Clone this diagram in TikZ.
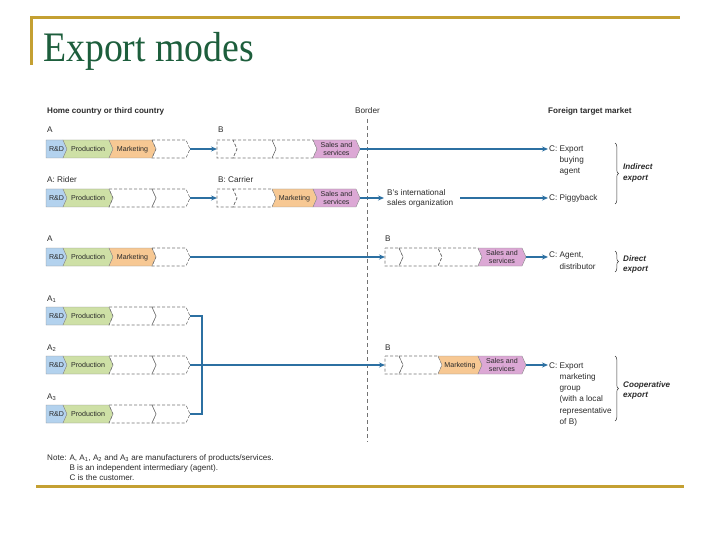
\documentclass[tikz,border=0pt]{standalone}
\usepackage{fontspec}
\setmainfont{Liberation Sans}
\newfontfamily\titlefont{Liberation Serif}
\usetikzlibrary{arrows.meta,decorations.pathreplacing}
\definecolor{gold}{HTML}{C4A032}
\definecolor{titlegreen}{HTML}{1D5E3C}
\definecolor{rdblue}{HTML}{B3D2EE}
\definecolor{prodgreen}{HTML}{CEE0A6}
\definecolor{mktorange}{HTML}{F7C893}
\definecolor{salespink}{HTML}{DCA8D5}
\definecolor{flowblue}{HTML}{2C70A2}
\definecolor{txt}{HTML}{2A2A2A}
% segment: #1 name, #2 x0, #3 x1, #4 y centre, #5 style, #6 notch (0/1), #7 text
\newcommand{\segm}[7]{%
  \path[#5] ({#2},{#4-9}) -- ({#3},{#4-9}) -- ({#3+4},{#4}) -- ({#3},{#4+9})
     -- ({#2},{#4+9}) -- ({#2+4*#6},{#4}) -- cycle;
  \node[segtext] (#1) at ({(#2+#3)/2+2},{#4}) {#7};
}
\tikzset{
  rdseg/.style={fill=rdblue,draw=black!45,line width=0.4pt},
  prodseg/.style={fill=prodgreen,draw=black!45,line width=0.4pt},
  mktseg/.style={fill=mktorange,draw=black!45,line width=0.4pt},
  salesseg/.style={fill=salespink,draw=black!45,line width=0.4pt},
  emptyseg/.style={draw=black!55,dash pattern=on 3pt off 2pt,line width=0.6pt},
  segtext/.style={font=\fontsize{7.1}{7.6}\selectfont,text=txt,inner sep=0pt,align=center},
  lab/.style={font=\fontsize{8.2}{11}\selectfont,anchor=base west,inner sep=0pt,text=txt},
  head/.style={lab,font=\bfseries\fontsize{8.1}{10}\selectfont},
  kind/.style={lab,font=\bfseries\itshape\fontsize{8.1}{10.5}\selectfont},
  flow/.style={draw=flowblue,line width=1.2pt,-{Stealth[length=6pt,width=5pt]}},
  link/.style={draw=flowblue,line width=1.2pt},
  brc/.style={decorate,decoration={brace,amplitude=3.5pt},draw=black!80,line width=0.5pt},
  border/.style={draw=black!55,dash pattern=on 4pt off 3pt,line width=0.6pt},
  goldrule/.style={draw=gold,line width=3pt},
}
\newcommand{\sv}[1]{\vphantom{P}\smash{#1}}
\begin{document}
\begin{tikzpicture}[x=1pt,y=-1pt]
\useasboundingbox (0,0) rectangle (720,540);
% frame
\draw[goldrule] (30,17.5) -- (680,17.5);
\draw[goldrule] (31.5,16) -- (31.5,65);
\draw[goldrule] (36,486) -- (684,486);
\node[anchor=base west,font=\titlefont\fontsize{42}{42}\selectfont,text=titlegreen,xscale=0.9,inner sep=0pt] (title) at (43,62) {Export modes};
% headings
\node[head] (home) at (47,114) {Home country or third country};
\node[lab] (borderlab) at (355,114) {Border};
\node[head] (foreign) at (548,114) {Foreign target market};
\coordinate (btop) at (367,119);
\coordinate (bbot) at (367,442);
\draw[border] (btop) -- (bbot);

% ---------- Row 1: export buying agent ----------
\node[lab] (a1lab) at (47,133) {A};
\segm{r1rd}{46}{63}{149}{rdseg}{0}{\sv{R\&D}}
\segm{r1prod}{63}{109}{149}{prodseg}{1}{\sv{Production}}
\segm{r1mkt}{109}{152}{149}{mktseg}{1}{\sv{Marketing}}
\segm{r1e}{152}{186}{149}{emptyseg}{1}{}
\coordinate (r1end) at (190,149);
\node[lab] (b1lab) at (218,133) {B};
\segm{s1e1}{217}{233}{149}{emptyseg}{0}{}
\segm{s1e2}{233}{272}{149}{emptyseg}{1}{}
\segm{s1e3}{272}{313}{149}{emptyseg}{1}{}
\segm{s1sales}{313}{356}{149}{salesseg}{1}{Sales and\\services}
\coordinate (s1start) at (217,149);
\coordinate (s1end) at (360,149);
\coordinate (c1) at (548,149);
\draw[flow] (r1end) -- (s1start);
\draw[flow] (s1end) -- (c1);
\node[lab] (c1lab) at (549,152) {\begin{tabular}[t]{@{}l@{ }l@{}}C: & Export\\ & buying\\ & agent\end{tabular}};

% ---------- Row 2: piggyback ----------
\node[lab] (a2lab) at (47,183) {A: Rider};
\segm{r2rd}{46}{63}{198}{rdseg}{0}{\sv{R\&D}}
\segm{r2prod}{63}{109}{198}{prodseg}{1}{\sv{Production}}
\segm{r2e1}{109}{152}{198}{emptyseg}{1}{}
\segm{r2e2}{152}{186}{198}{emptyseg}{1}{}
\coordinate (r2end) at (190,198);
\node[lab] (b2lab) at (218,183) {B: Carrier};
\segm{s2e1}{217}{233}{198}{emptyseg}{0}{}
\segm{s2e2}{233}{272}{198}{emptyseg}{1}{}
\segm{s2mkt}{272}{313}{198}{mktseg}{1}{\sv{Marketing}}
\segm{s2sales}{313}{356}{198}{salesseg}{1}{Sales and\\services}
\coordinate (s2start) at (217,198);
\coordinate (s2end) at (360,198);
\draw[flow] (r2end) -- (s2start);
\node[lab,font=\fontsize{8.2}{10}\selectfont] (intl) at (387,196) {\begin{tabular}[t]{@{}l@{}}B's international\\sales organization\end{tabular}};
\coordinate (intlin) at (384,198);
\coordinate (intlout) at (460,198);
\coordinate (c2) at (548,198);
\draw[flow] (s2end) -- (intlin);
\draw[flow] (intlout) -- (c2);
\node[lab] (c2lab) at (549,201) {C: Piggyback};
\draw[brc] (615,143) -- (615,204);
\node[kind] (indirect) at (623,170) {\begin{tabular}[t]{@{}l@{}}Indirect\\export\end{tabular}};

% ---------- Row 3: direct export ----------
\node[lab] (a3lab) at (47,241) {A};
\segm{r3rd}{46}{63}{257}{rdseg}{0}{\sv{R\&D}}
\segm{r3prod}{63}{109}{257}{prodseg}{1}{\sv{Production}}
\segm{r3mkt}{109}{152}{257}{mktseg}{1}{\sv{Marketing}}
\segm{r3e}{152}{186}{257}{emptyseg}{1}{}
\coordinate (r3end) at (190,257);
\node[lab] (b3lab) at (385,241) {B};
\segm{s3e1}{385}{399}{257}{emptyseg}{0}{}
\segm{s3e2}{399}{438}{257}{emptyseg}{1}{}
\segm{s3e3}{438}{478}{257}{emptyseg}{1}{}
\segm{s3sales}{478}{522}{257}{salesseg}{1}{Sales and\\services}
\coordinate (s3start) at (385,257);
\coordinate (s3end) at (526,257);
\coordinate (c3) at (548,257);
\draw[flow] (r3end) -- (s3start);
\draw[flow] (s3end) -- (c3);
\node[lab,font=\fontsize{8.2}{12}\selectfont] (c3lab) at (549,257) {\begin{tabular}[t]{@{}l@{ }l@{}}C: & Agent,\\ & distributor\end{tabular}};
\draw[brc] (615,251) -- (615,272);
\node[kind] (direct) at (623,261) {\begin{tabular}[t]{@{}l@{}}Direct\\export\end{tabular}};

% ---------- Rows 4-6: cooperative export ----------
\node[lab] (a4lab) at (47,301) {A\textsubscript{1}};
\segm{r4rd}{46}{63}{316}{rdseg}{0}{\sv{R\&D}}
\segm{r4prod}{63}{109}{316}{prodseg}{1}{\sv{Production}}
\segm{r4e1}{109}{152}{316}{emptyseg}{1}{}
\segm{r4e2}{152}{186}{316}{emptyseg}{1}{}
\coordinate (r4end) at (190,316);
\node[lab] (a5lab) at (47,350) {A\textsubscript{2}};
\segm{r5rd}{46}{63}{365}{rdseg}{0}{\sv{R\&D}}
\segm{r5prod}{63}{109}{365}{prodseg}{1}{\sv{Production}}
\segm{r5e1}{109}{152}{365}{emptyseg}{1}{}
\segm{r5e2}{152}{186}{365}{emptyseg}{1}{}
\coordinate (r5end) at (190,365);
\node[lab] (a6lab) at (47,399) {A\textsubscript{3}};
\segm{r6rd}{46}{63}{414}{rdseg}{0}{\sv{R\&D}}
\segm{r6prod}{63}{109}{414}{prodseg}{1}{\sv{Production}}
\segm{r6e1}{109}{152}{414}{emptyseg}{1}{}
\segm{r6e2}{152}{186}{414}{emptyseg}{1}{}
\coordinate (r6end) at (190,414);
\coordinate (j4) at (202,316);
\coordinate (j6) at (202,414);
\draw[link] (r4end) -- (j4) -- (j6) -- (r6end);
\node[lab] (b5lab) at (385,350) {B};
\segm{s5e1}{385}{399}{365}{emptyseg}{0}{}
\segm{s5e2}{399}{438}{365}{emptyseg}{1}{}
\segm{s5mkt}{438}{478}{365}{mktseg}{1}{\sv{Marketing}}
\segm{s5sales}{478}{522}{365}{salesseg}{1}{Sales and\\services}
\coordinate (s5start) at (385,365);
\coordinate (s5end) at (526,365);
\coordinate (c5) at (548,365);
\draw[flow] (r5end) -- (s5start);
\draw[flow] (s5end) -- (c5);
\node[lab,font=\fontsize{8.2}{11.3}\selectfont] (c5lab) at (549,368) {\begin{tabular}[t]{@{}l@{ }l@{}}C: & Export\\ & marketing\\ & group\\ & (with a local\\ & representative\\ & of B)\end{tabular}};
\draw[brc] (615,356) -- (615,421);
\node[kind] (coop) at (623,387) {\begin{tabular}[t]{@{}l@{}}Cooperative\\export\end{tabular}};

% ---------- Note ----------
\node[lab,font=\fontsize{8.1}{10.3}\selectfont] (note) at (47,460) {\begin{tabular}[t]{@{}l@{ }l@{}}Note: & A, A\textsubscript{1}, A\textsubscript{2} and A\textsubscript{3} are manufacturers of products/services.\\ & B is an independent intermediary (agent).\\ & C is the customer.\end{tabular}};
\end{tikzpicture}
\end{document}
